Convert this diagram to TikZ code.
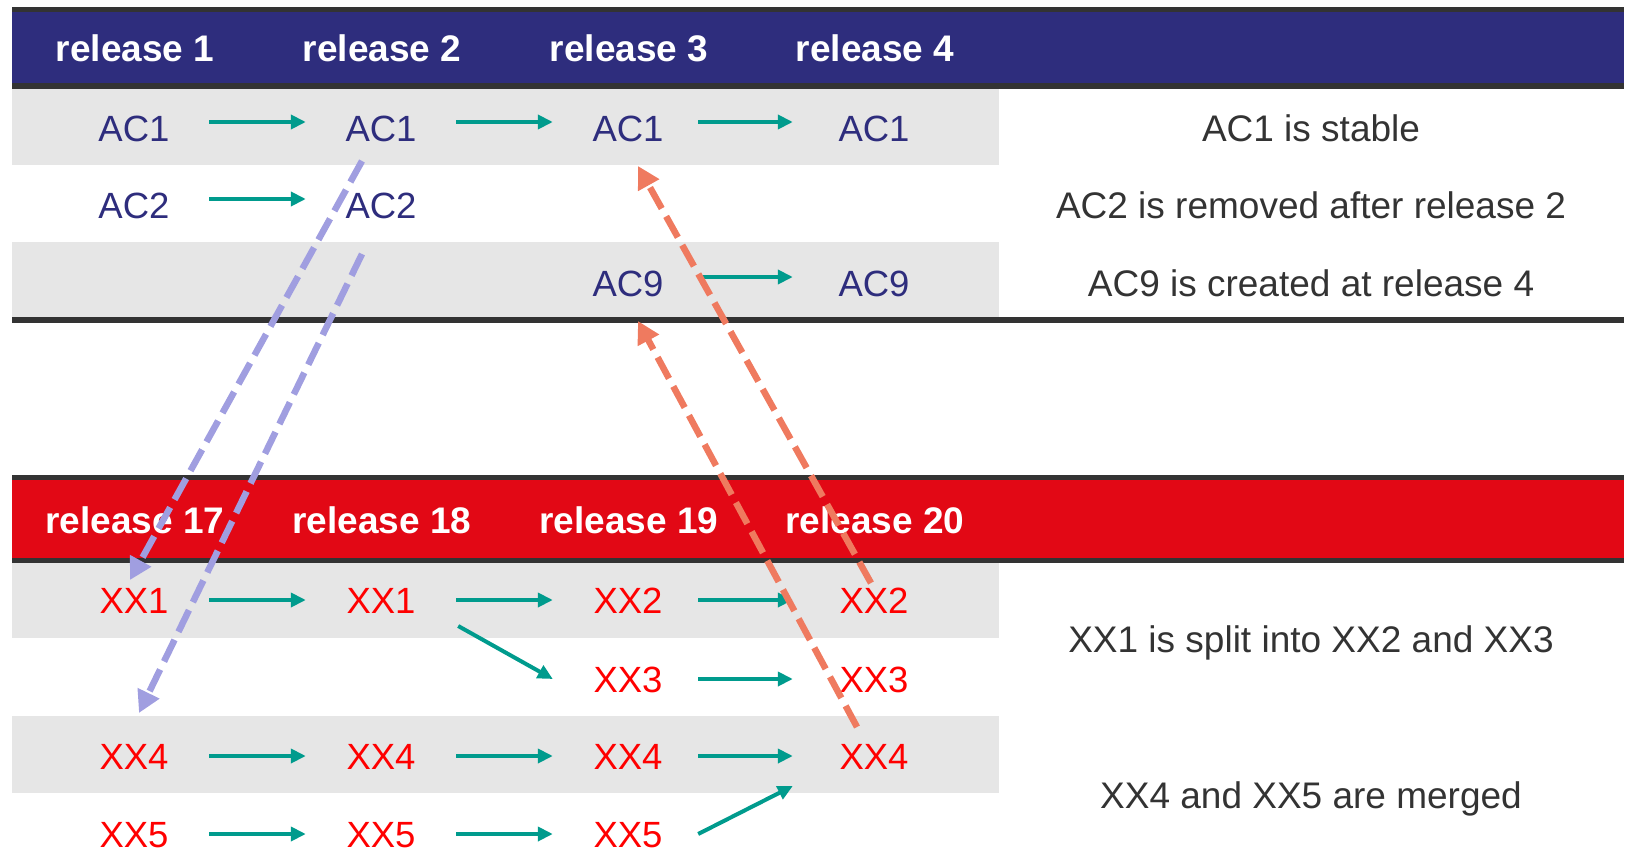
\documentclass[tikz,border=0pt]{standalone}
\usepackage{fontspec}
\setmainfont{Liberation Sans}
\usetikzlibrary{arrows.meta,calc}

\definecolor{hdrblue}{RGB}{46,45,125}
\definecolor{hdrred}{RGB}{226,8,21}
\definecolor{rowgray}{RGB}{230,230,230}
\definecolor{rulegray}{RGB}{51,51,51}
\definecolor{flowgreen}{RGB}{0,155,141}
\definecolor{xxred}{RGB}{255,0,0}
\definecolor{notegray}{RGB}{51,51,51}
\definecolor{trackpurple}{RGB}{160,158,224}
\definecolor{trackorange}{RGB}{239,122,95}

\begin{document}
\begin{tikzpicture}[x=1pt,y=-1pt,
  item/.style={inner sep=0pt, minimum width=150pt, text height=26pt, text depth=0pt,
    anchor=base, font=\fontsize{36.5}{36.5}\selectfont},
  acitem/.style={item, text=hdrblue},
  xxitem/.style={item, text=xxred},
  head/.style={inner sep=0pt, anchor=base, text=white, font=\fontsize{37}{37}\selectfont\bfseries},
  note/.style={inner sep=0pt, anchor=base, text=notegray, font=\fontsize{37}{37}\selectfont},
  flow/.style={draw=flowgreen, line width=4pt, -{Triangle[length=15pt,width=14pt]}},
  lastcol/.style={shorten <=-5pt, shorten >=6pt},
  track/.style={line width=6.5pt, dash pattern=on 24pt off 9pt, -{Triangle[length=22pt,width=23pt]}},
  backtrack/.style={track, draw=trackpurple},
  fwdtrack/.style={track, draw=trackorange},
]
\useasboundingbox (0,0) rectangle (1626,867);

% ---- upper table: header band, striped rows and rules
\fill[hdrblue] (12,12) rectangle (1624,83);
\fill[rulegray] (12,7) rectangle (1624,12);
\fill[rulegray] (12,83) rectangle (1624,89);
\fill[rowgray] (12,89) rectangle (999,165);
\fill[rowgray] (12,242) rectangle (999,317);
\fill[rulegray] (12,317) rectangle (1624,323);

% ---- lower table: header band and striped rows
\fill[rulegray] (12,475) rectangle (1624,480);
\fill[hdrred] (12,480) rectangle (1624,558);
\fill[rulegray] (12,558) rectangle (1624,563);
\fill[rowgray] (12,563) rectangle (999,638);
\fill[rowgray] (12,716) rectangle (999,793);

% ---- header labels
\node[head] (h1) at (135,62) {release 1};
\node[head] (h2) at (382,62) {release 2};
\node[head] (h3) at (629,62) {release 3};
\node[head] (h4) at (875,62) {release 4};
\node[head] (h17) at (135,533) {release 17};
\node[head] (h18) at (382,533) {release 18};
\node[head] (h19) at (629,533) {release 19};
\node[head] (h20) at (875,533) {release 20};

% ---- AC items
\node[acitem] (a11) at (134,141) {AC1};
\node[acitem] (a12) at (381,141) {AC1};
\node[acitem] (a13) at (628,141) {AC1};
\node[acitem] (a14) at (874,141) {AC1};
\node[acitem] (a21) at (134,218) {AC2};
\node[acitem] (a22) at (381,218) {AC2};
\node[acitem] (a33) at (628,296) {AC9};
\node[acitem] (a34) at (874,296) {AC9};

% ---- XX items
\node[xxitem] (x11) at (134,613) {XX1};
\node[xxitem] (x12) at (381,613) {XX1};
\node[xxitem] (x13) at (628,613) {XX2};
\node[xxitem] (x14) at (874,613) {XX2};
\node[xxitem] (x23) at (628,692) {XX3};
\node[xxitem] (x24) at (874,692) {XX3};
\node[xxitem] (x31) at (134,769) {XX4};
\node[xxitem] (x32) at (381,769) {XX4};
\node[xxitem] (x33) at (628,769) {XX4};
\node[xxitem] (x34) at (874,769) {XX4};
\node[xxitem] (x41) at (134,847) {XX5};
\node[xxitem] (x42) at (381,847) {XX5};
\node[xxitem] (x43) at (628,847) {XX5};

% ---- notes
\node[note] (n1) at (1311,141) {AC1 is stable};
\node[note] (n2) at (1311,218) {AC2 is removed after release 2};
\node[note] (n3) at (1311,296) {AC9 is created at release 4};
\node[note] (n4) at (1311,652) {XX1 is split into XX2 and XX3};
\node[note] (n5) at (1311,808) {XX4 and XX5 are merged};

% ---- evolution arrows, upper table
\draw[flow] ([yshift=6pt]a11.east) -- ([yshift=6pt]a12.west);
\draw[flow] ([yshift=6pt]a12.east) -- ([yshift=6pt]a13.west);
\draw[flow,lastcol] ([yshift=6pt]a13.east) -- ([yshift=6pt]a14.west);
\draw[flow] ([yshift=6pt]a21.east) -- ([yshift=6pt]a22.west);
\draw[flow,lastcol] ([yshift=6pt]a33.east) -- ([yshift=6pt]a34.west);

% ---- evolution arrows, lower table
\draw[flow] (x11.east) -- (x12.west);
\draw[flow] (x12.east) -- (x13.west);
\draw[flow,lastcol] (x13.east) -- (x14.west);
\draw[flow] ($(x12.east)+(2,26)$) -- (x23.west);
\draw[flow,lastcol] (x23.east) -- (x24.west);
\draw[flow] (x31.east) -- (x32.west);
\draw[flow] (x32.east) -- (x33.west);
\draw[flow,lastcol] (x33.east) -- (x34.west);
\draw[flow] (x41.east) -- (x42.west);
\draw[flow] (x42.east) -- (x43.west);
\draw[flow] ($(x43.east)+(-5,0)$) -- ($(x34.west)+(-6,30)$);

% ---- correspondences between the two tables
\draw[backtrack] ($(a12)+(-19,33)$) -- ($(x11)+(-4,-20)$);
\draw[backtrack] ($(a22)+(-19,49)$) -- ($(x31)+(5,-43)$);
\draw[fwdtrack] ($(x14)+(-3,-17)$) -- ($(a13)+(10,38)$);
\draw[fwdtrack] ($(x34)+(-17,-29)$) -- ($(a33)+(10,38)$);
\end{tikzpicture}
\end{document}
